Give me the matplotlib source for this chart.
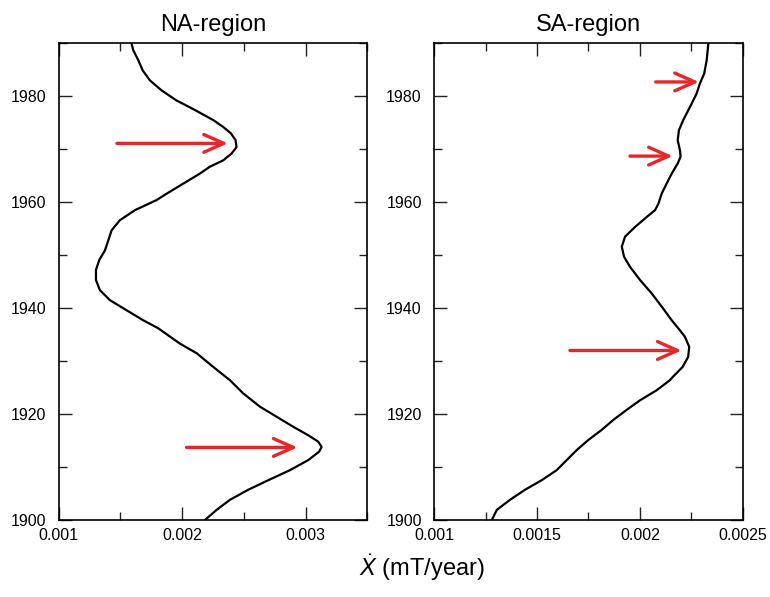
import matplotlib
matplotlib.use("Agg")
import matplotlib.pyplot as plt
from matplotlib.ticker import MultipleLocator

plt.rcParams["font.family"] = ["Liberation Sans", "DejaVu Sans"]
plt.rcParams["mathtext.fontset"] = "custom"
plt.rcParams["mathtext.rm"] = "Liberation Sans"
plt.rcParams["mathtext.it"] = "Liberation Sans:italic"

# Secular variation rate profiles (value, year)
na_years = [1989.9, 1988.7, 1986.8, 1984.9, 1983.0, 1981.1, 1979.2, 1977.4, 1975.5,
            1974.2, 1973.0, 1971.7, 1970.4, 1969.2, 1967.9, 1966.7, 1965.4, 1963.5,
            1961.6, 1960.4, 1958.5, 1956.6, 1954.7, 1952.8, 1950.9, 1949.1, 1947.2,
            1945.3, 1943.4, 1941.5, 1939.6, 1937.7, 1936.2, 1933.3, 1931.5, 1928.9,
            1926.4, 1923.9, 1921.4, 1919.5, 1917.6, 1916.0, 1914.8, 1913.8, 1912.9,
            1911.3, 1909.4, 1907.5, 1905.7, 1903.8, 1901.9, 1900.0]
na_values = [0.001591, 0.001604, 0.001645, 0.001680, 0.001739, 0.001834, 0.001955,
             0.002104, 0.002252, 0.002333, 0.002395, 0.002433, 0.002441, 0.002401,
             0.002333, 0.002225, 0.002144, 0.002009, 0.001874, 0.001793, 0.001618,
             0.001496, 0.001429, 0.001402, 0.001375, 0.001329, 0.001302, 0.001302,
             0.001334, 0.001415, 0.001550, 0.001685, 0.001806, 0.001982, 0.002117,
             0.002252, 0.002387, 0.002495, 0.002630, 0.002765, 0.002900, 0.003021,
             0.003102, 0.003130, 0.003110, 0.003021, 0.002873, 0.002697, 0.002535,
             0.002387, 0.002279, 0.002185]

sa_years = [1989.9, 1986.8, 1984.3, 1982.4, 1980.5, 1978.0, 1975.5, 1973.6, 1971.7,
            1969.8, 1968.6, 1967.3, 1965.4, 1963.5, 1961.6, 1959.7, 1958.5, 1957.2,
            1955.3, 1953.5, 1951.6, 1949.7, 1947.8, 1945.3, 1942.8, 1940.3, 1937.7,
            1935.8, 1934.6, 1932.7, 1930.8, 1928.9, 1927.0, 1926.4, 1924.5, 1922.6,
            1920.8, 1918.9, 1917.0, 1915.1, 1913.2, 1911.3, 1909.4, 1907.5, 1905.7,
            1903.8, 1901.9, 1900.0]
sa_values = [0.002333, 0.002325, 0.002313, 0.002292, 0.002276, 0.002244, 0.002211,
             0.002190, 0.002184, 0.002195, 0.002198, 0.002184, 0.002155, 0.002130,
             0.002106, 0.002090, 0.002074, 0.002033, 0.001976, 0.001928, 0.001912,
             0.001923, 0.001952, 0.002001, 0.002057, 0.002106, 0.002155, 0.002195,
             0.002219, 0.002240, 0.002235, 0.002208, 0.002160, 0.002146, 0.002082,
             0.002001, 0.001936, 0.001871, 0.001814, 0.001749, 0.001693, 0.001644,
             0.001595, 0.001522, 0.001441, 0.001368, 0.001304, 0.001280]

# Arrows marking features: (tail value, tip value, year)
na_arrows = [(0.001472, 0.002371, 1971.1), (0.002036, 0.002935, 1913.7)]
sa_arrows = [(0.002077, 0.002287, 1982.7), (0.001952, 0.002160, 1968.7),
             (0.001660, 0.002203, 1932.0)]

titles = ["NA-region", "SA-region"]
xlims = [(0.001, 0.0035), (0.001, 0.0025)]
x_minor = [0.0005, 0.00025]
x_ticklabels = [["0.001", "0.002", "0.003"], ["0.001", "0.0015", "0.002", "0.0025"]]
x_tickvals = [[0.001, 0.002, 0.003], [0.001, 0.0015, 0.002, 0.0025]]
y_ticks = [1900, 1920, 1940, 1960, 1980]

ARROW_RED = "#e8262a"

fig = plt.figure(figsize=(7.70, 5.97), dpi=100)
ax_left = fig.add_axes([0.0762, 0.129, 0.4008, 0.7985])
ax_right = fig.add_axes([0.564, 0.129, 0.4005, 0.7985])

panels = [(ax_left, na_values, na_years, na_arrows),
          (ax_right, sa_values, sa_years, sa_arrows)]

for i, (ax, vals, yrs, arrows) in enumerate(panels):
    ax.plot(vals, yrs, color="black", lw=1.6, solid_joinstyle="round",
            solid_capstyle="round")
    for tail, tip, yr in arrows:
        ax.annotate("", xy=(tip, yr), xytext=(tail, yr),
                    arrowprops=dict(arrowstyle="->,head_length=0.72,head_width=0.32",
                                    color=ARROW_RED, lw=2.4, mutation_scale=20,
                                    shrinkA=0, shrinkB=0))
    ax.set_xlim(*xlims[i])
    ax.set_ylim(1900, 1990)
    ax.set_xticks(x_tickvals[i])
    ax.set_xticklabels(x_ticklabels[i])
    ax.xaxis.set_minor_locator(MultipleLocator(x_minor[i]))
    ax.set_yticks(y_ticks)
    ax.yaxis.set_minor_locator(MultipleLocator(10))
    ax.tick_params(which="both", direction="in", top=True, right=True,
                   labelsize=11.5, width=1.0, color="#222222")
    ax.tick_params(axis="x", pad=6)
    ax.tick_params(axis="y", pad=9)
    ax.tick_params(which="major", length=9.5)
    ax.tick_params(which="minor", length=5.5)
    for sp in ax.spines.values():
        sp.set_linewidth(1.2)
    ax.set_title(titles[i], fontsize=17, pad=9)

fig.text(0.548, 0.035, r"$\dot{X}$ (mT/year)", fontsize=17, ha="center", va="baseline")

fig.savefig("out.png", dpi=100)
